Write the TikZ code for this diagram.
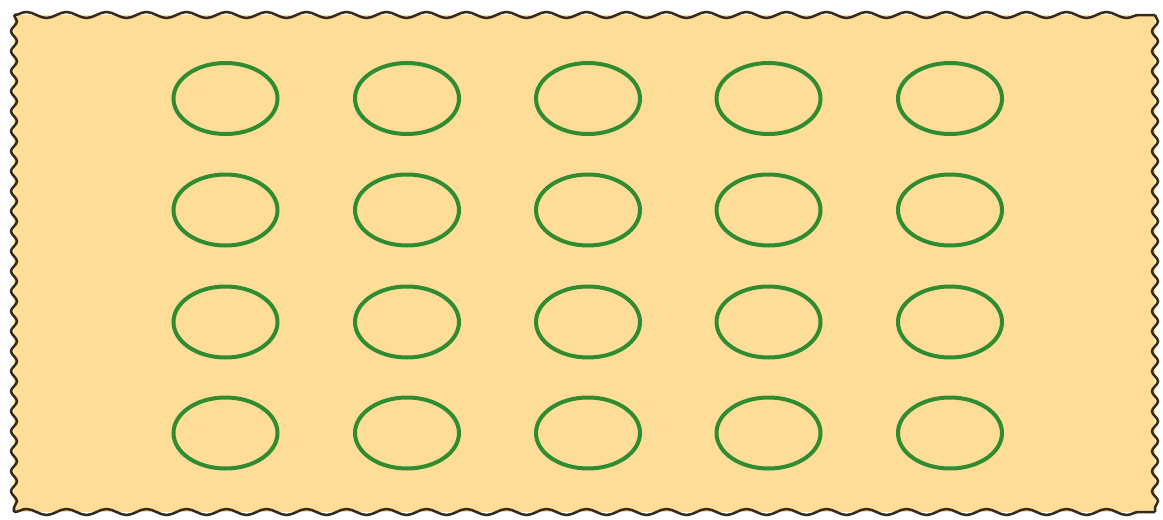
\documentclass[tikz,border=0pt]{standalone}
\usepackage{tikz}
\usetikzlibrary{shapes.geometric,decorations.pathmorphing}
\usepackage{xcolor}
\definecolor{sheetorange}{HTML}{FDDD98}
\definecolor{edgebrown}{HTML}{352A18}
\definecolor{ringgreen}{HTML}{2F8C30}

\begin{document}
\begin{tikzpicture}[
  ring/.style={ellipse, draw=ringgreen, line width=0.08cm,
    minimum width=2.08cm, minimum height=1.42cm, inner sep=0pt},
  wavyh/.style={decorate, decoration={snake, segment length=0.8cm, amplitude=0.06cm}},
  wavyv/.style={decorate, decoration={snake, segment length=0.4cm, amplitude=0.06cm}}
]
\useasboundingbox (0,0) rectangle (23.26,10.38);
\fill[white] (0,0) rectangle (23.26,10.38);
% sheet
\coordinate (sw) at (0.28,0.14);
\coordinate (se) at (23.1,0.14);
\coordinate (ne) at (23.1,10.08);
\coordinate (nw) at (0.28,10.08);
\fill[sheetorange] (sw) rectangle (ne);
\draw[edgebrown, line width=0.05cm, wavyh] (nw) -- (ne);
\draw[edgebrown, line width=0.05cm, wavyh] (sw) -- (se);
\draw[edgebrown, line width=0.05cm, wavyv] (nw) -- (sw);
\draw[edgebrown, line width=0.05cm, wavyv] (ne) -- (se);
% rings, row by row
\foreach \row/\y in {1/8.41, 2/6.18, 3/3.94, 4/1.72} {
  \foreach \col/\x in {1/4.51, 2/8.14, 3/11.76, 4/15.37, 5/19.0} {
    \node[ring] (ring-\row-\col) at (\x,\y) {};
  }
}
\end{tikzpicture}
\end{document}
